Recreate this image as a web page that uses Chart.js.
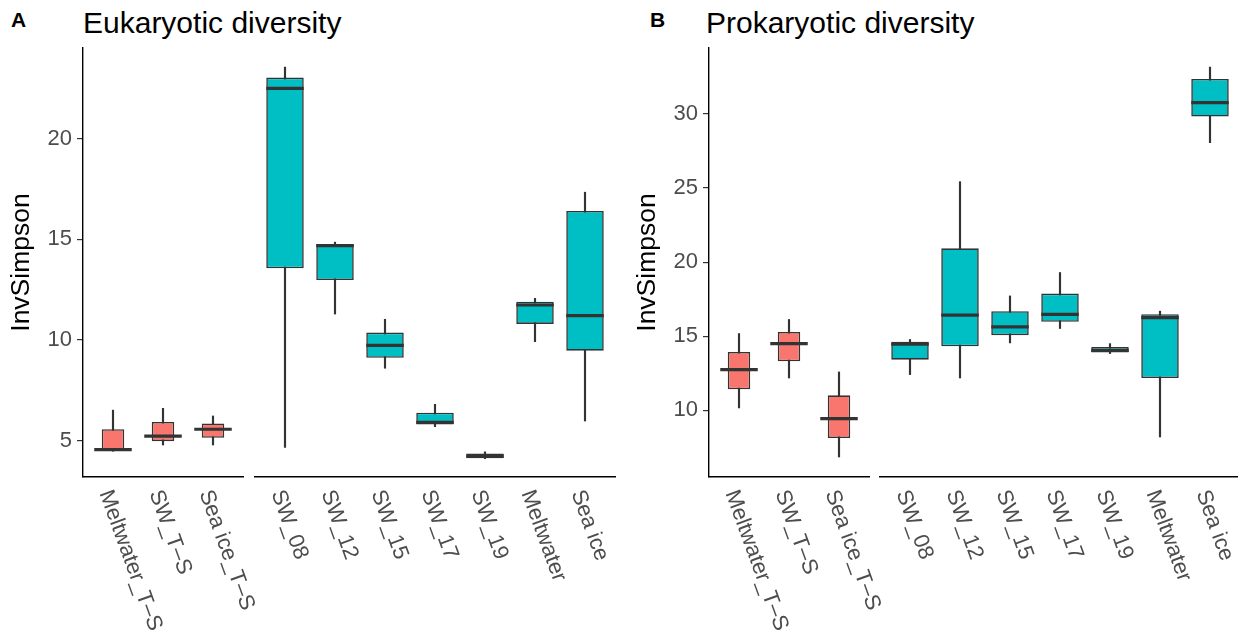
<!DOCTYPE html>
<html>
<head>
<meta charset="utf-8">
<script src="https://cdn.jsdelivr.net/npm/chart.js@4.4.0/dist/chart.umd.min.js"></script>
<style>
  body { margin: 0; background: #fff; width: 1238px; height: 640px; overflow: hidden; position: relative;
         font-family: "Liberation Sans", Arial, sans-serif; }
  .facet { position: absolute; top: 0; height: 640px; }
  .tag { position: absolute; font-weight: bold; font-size: 21px; line-height: 21px; color: #000; }
  .title { position: absolute; font-size: 30px; line-height: 30px; color: #000; white-space: nowrap; }
</style>
</head>
<body>
<div class="tag" style="left:11px;top:9px">A</div>
<div class="title" style="left:83px;top:8px">Eukaryotic diversity</div>
<div class="tag" style="left:650px;top:9px">B</div>
<div class="title" style="left:706px;top:8px">Prokaryotic diversity</div>

<!-- canvases overlap a little so slanted labels are not cut at the facet edge -->
<div class="facet" style="left:0;width:275px"><canvas id="eukTS" width="275" height="640"></canvas></div>
<div class="facet" style="left:249px;width:385px"><canvas id="eukSt" width="385" height="640"></canvas></div>
<div class="facet" style="left:626px;width:275px"><canvas id="proTS" width="275" height="640"></canvas></div>
<div class="facet" style="left:875px;width:371px"><canvas id="proSt" width="371" height="640"></canvas></div>

<script>
// sample groups: T-S groups on the left facet, stations on the right facet
const tsGroups = ["Meltwater_T–S", "SW_T–S", "Sea ice_T–S"];
const stations = ["SW_08", "SW_12", "SW_15", "SW_17", "SW_19", "Meltwater", "Sea ice"];

// eukaryotic InvSimpson box stats (3 T-S groups, then 7 stations)
const eukMin = [4.48, 4.79, 4.79, 4.67, 11.29, 8.60, 5.70, 4.11, 9.92, 5.98];
const eukQ1  = [4.50, 4.98, 5.15, 13.56, 12.98, 9.12, 5.81, 4.13, 10.80, 9.47];
const eukMed = [4.56, 5.23, 5.57, 22.50, 14.69, 9.74, 5.91, 4.24, 11.74, 11.21];
const eukQ3  = [5.57, 5.93, 5.86, 23.03, 14.77, 10.37, 6.39, 4.37, 11.90, 16.41];
const eukMax = [6.52, 6.61, 6.23, 23.55, 14.86, 11.03, 6.81, 4.45, 12.07, 17.34];

// prokaryotic InvSimpson box stats
const proMin = [10.16, 12.18, 6.85, 12.41, 12.18, 14.55, 15.52, 13.83, 8.20, 28.06];
const proQ1  = [11.42, 13.31, 8.13, 13.42, 14.32, 15.07, 15.97, 13.90, 12.18, 29.82];
const proMed = [12.75, 14.50, 9.44, 14.46, 16.42, 15.63, 16.47, 14.05, 16.26, 30.76];
const proQ3  = [13.94, 15.29, 11.01, 14.62, 20.93, 16.69, 17.88, 14.28, 16.49, 32.36];
const proMax = [15.18, 16.13, 12.59, 14.78, 25.43, 17.72, 19.30, 14.50, 16.69, 33.16];

const eukTicks = [5, 10, 15, 20];
const proTicks = [10, 15, 20, 25, 30];
const eukRange = [3.2, 24.5];
const proRange = [5.5, 34.45];

const RED = "#F8766D";
const TEAL = "#00BFC4";
const INK = "#333333";
const FONT = '"Liberation Sans", Arial, sans-serif';

Chart.defaults.font.family = FONT;

// slanted category labels under the x axis (reading downwards to the right)
const slantedLabels = {
  id: "slantedLabels",
  afterDraw(chart, args, opts) {
    const { ctx, chartArea, scales: { x } } = chart;
    ctx.save();
    ctx.font = "22px " + FONT;
    ctx.fillStyle = "#4D4D4D";
    ctx.textAlign = "left";
    ctx.textBaseline = "middle";
    opts.labels.forEach((text, i) => {
      ctx.save();
      ctx.translate(x.getPixelForValue(i) - 8, chartArea.bottom + 14);
      ctx.rotate(70 * Math.PI / 180);
      ctx.fillText(text, 0, 0);
      ctx.restore();
    });
    ctx.restore();
  }
};

function boxFacet(id, labels, from, to, stats, fill, range, ticks, showY, pad) {
  const pick = arr => arr.slice(from, to);
  const lo = pick(stats.min), q1 = pick(stats.q1), med = pick(stats.med),
        q3 = pick(stats.q3), hi = pick(stats.max);

  const yScale = {
    min: range[0],
    max: range[1],
    display: showY,
    afterBuildTicks: axis => { axis.ticks = ticks.map(v => ({ value: v })); },
    grid: { drawOnChartArea: false, drawTicks: true, tickLength: 6, color: INK, lineWidth: 1.2 },
    border: { display: true, color: "#000", width: 1.4 },
    ticks: { font: { size: 22 }, color: "#4D4D4D", padding: 5 },
    title: { display: true, text: "InvSimpson", color: "#000", font: { size: 26.5 }, padding: { top: 6, bottom: 0 } }
  };
  if (showY) yScale.afterFit = axis => { axis.width = 83; };

  new Chart(document.getElementById(id), {
    type: "bar",
    data: {
      datasets: [
        {
          // median bar across the box
          type: "line",
          order: 0,
          data: labels.map((_, i) => ({ x: i, y: med[i] })),
          showLine: false,
          pointStyle: "line",
          pointRadius: 18.75,
          pointBorderWidth: 3.2,
          pointBorderColor: INK
        },
        {
          // interquartile box
          order: 1,
          data: labels.map((_, i) => ({ x: i, y: [q1[i], q3[i]] })),
          backgroundColor: fill,
          borderColor: INK,
          borderWidth: 1.6,
          borderSkipped: false,
          barPercentage: 0.75,
          categoryPercentage: 1,
          grouped: false
        },
        {
          // whisker from min to max, box sits on top
          order: 2,
          data: labels.map((_, i) => ({ x: i, y: [lo[i], hi[i]] })),
          backgroundColor: INK,
          borderWidth: 0,
          barThickness: 1.5,
          grouped: false
        }
      ]
    },
    options: {
      responsive: false,
      animation: false,
      events: [],
      layout: { autoPadding: false, padding: { top: 48, bottom: 0, left: pad[0], right: pad[1] } },
      scales: {
        x: {
          type: "linear",
          min: -0.6,
          max: labels.length - 0.4,
          offset: false,
          grid: { display: false },
          border: { display: true, color: "#000", width: 1.4 },
          ticks: { display: false },
          afterFit: axis => { axis.height = 163; }
        },
        y: yScale
      },
      plugins: {
        legend: { display: false },
        tooltip: { enabled: false },
        slantedLabels: { labels: labels }
      }
    },
    plugins: [slantedLabels]
  });
}

const eukStats = { min: eukMin, q1: eukQ1, med: eukMed, q3: eukQ3, max: eukMax };
const proStats = { min: proMin, q1: proQ1, med: proMed, q3: proQ3, max: proMax };

boxFacet("eukTS", tsGroups, 0, 3, eukStats, RED, eukRange, eukTicks, true, [0, 32]);
boxFacet("eukSt", stations, 3, 10, eukStats, TEAL, eukRange, eukTicks, false, [6, 19]);
boxFacet("proTS", tsGroups, 0, 3, proStats, RED, proRange, proTicks, true, [0, 32]);
boxFacet("proSt", stations, 3, 10, proStats, TEAL, proRange, proTicks, false, [5, 6]);
</script>
</body>
</html>
